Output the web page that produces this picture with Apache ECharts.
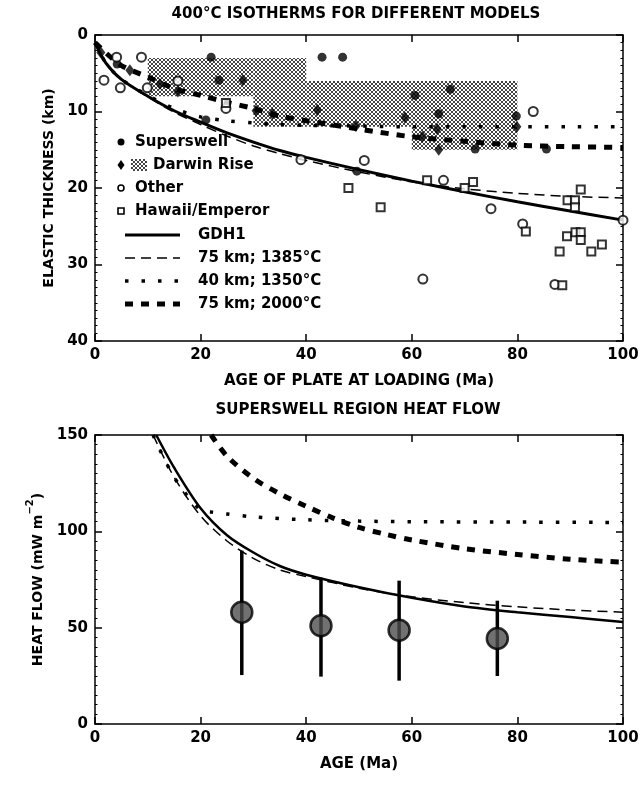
<!DOCTYPE html>
<html>
<head>
<meta charset="utf-8">
<script src="https://cdn.jsdelivr.net/npm/echarts@6/dist/echarts.min.js"></script>
<style>
html,body{margin:0;padding:0;background:#fff}
#chart{width:642px;height:788px}
</style>
</head>
<body>
<div id="chart"></div>
<script>
// ---------- Upper panel: 400 °C isotherm depth (elastic thickness, km) vs plate age (Ma) ----------
const isoAge    = [0, 2, 5, 10, 15, 20, 25, 30, 35, 40, 50, 60, 70, 80, 90, 100];
const isoGDH1   = [1.0, 3.6, 5.8, 8.0, 9.9, 11.4, 12.8, 14.0, 15.1, 16.0, 17.6, 19.1, 20.5, 21.8, 23.0, 24.2];
const iso1385   = [1.0, 3.6, 5.8, 8.1, 10.1, 11.7, 13.2, 14.5, 15.5, 16.4, 17.9, 19.2, 20.1, 20.7, 21.1, 21.3];
const iso1350   = [1.0, 3.6, 5.8, 7.9, 9.6, 10.7, 11.2, 11.5, 11.7, 11.8, 11.9, 12.0, 12.0, 12.0, 12.0, 12.0];
const iso2000   = [1.0, 2.3, 4.0, 5.5, 7.0, 7.9, 8.8, 9.6, 10.6, 11.2, 12.3, 13.3, 13.9, 14.4, 14.6, 14.7];

// Darwin Rise range: [age from, age to, top km, bottom km]
const darwinBoxes = [
  [10, 30, 3, 8],
  [30, 40, 3, 12],
  [40, 60, 6, 12],
  [60, 80, 6, 15]
];

const superswellPts = [[4.2,3.8],[22,2.9],[23.5,5.9],[43,2.9],[46.9,2.9],[21,11.1],[49.6,17.8],
  [60.6,7.9],[67.3,7.1],[65.1,10.3],[79.8,10.6],[72,14.9],[85.5,14.9]];
const darwinPts = [[1.1,2.3],[6.6,4.6],[12.3,6.4],[15.7,7.4],[28,5.9],[30.5,9.9],[33.6,10.3],
  [42.1,9.8],[49.4,11.9],[58.7,10.8],[62,13.3],[64.8,12.3],[65.1,15.0],[79.9,12.0]];
const otherPts = [[1.7,5.9],[4.1,2.9],[8.8,2.9],[4.8,6.9],[9.9,6.9],[15.7,6.0],[24.8,9.6],[39,16.3],
  [51,16.4],[66,19.0],[75,22.7],[62.1,31.9],[81,24.7],[83,10.0],[87.1,32.6],[100,24.2]];
const hawaiiPts = [[24.8,8.9],[48,20.0],[54.1,22.5],[62.9,19.0],[71.6,19.2],[70,20.0],[81.6,25.7],
  [88,28.3],[88.5,32.7],[89.4,26.3],[89.5,21.6],[90.9,21.6],[90.9,22.5],[91,25.8],[92,25.8],
  [92,26.8],[92,20.2],[94,28.3],[96,27.4]];

const topXTicks = [0, 20, 40, 60, 80, 100];
const topYTicks = [0, 10, 20, 30, 40];

// ---------- Lower panel: superswell heat flow (mW m^-2) vs age (Ma) ----------
const hfGDH1Age = [11.6, 15, 20, 25, 30, 35, 40, 50, 60, 70, 80, 90, 100];
const hfGDH1    = [150, 133, 112, 98, 89, 82, 77.5, 71, 65.5, 61, 58, 55.5, 53];
const hf1385Age = [11, 15, 20, 25, 30, 35, 40, 50, 60, 70, 80, 90, 100];
const hf1385    = [150, 128, 108, 95, 86, 80, 76.5, 70.5, 66, 63, 60.8, 59.2, 58];
const hf1350Age = [11, 15, 20, 22, 25, 30, 40, 50, 60, 80, 100];
const hf1350    = [150, 128, 111, 110, 109, 107.5, 106, 105.3, 105, 104.8, 104.6];
const hf2000Age = [22, 25, 30, 35, 40, 45, 50, 55, 60, 70, 80, 90, 100];
const hf2000    = [150, 139, 127.5, 119.5, 113, 107, 102, 98.5, 95.5, 91, 88, 85.5, 84];

const obsAge  = [27.8, 42.8, 57.6, 76.2];
const obsMean = [58, 51, 48.7, 44.4];
const obsLow  = [25.4, 24.6, 22.5, 24.9];
const obsHigh = [90, 76, 74.4, 64];

const hfXTicks = [0, 20, 40, 60, 80, 100];
const hfYTicks = [0, 50, 100, 150];

// ---------- helpers ----------
const pairs = (xs, ys) => xs.map((x, i) => [x, ys[i]]);
const FONT = 'DejaVu Sans, Liberation Sans, sans-serif';

function makeHatch() {
  const c = document.createElement('canvas');
  c.width = 4; c.height = 4;
  const g = c.getContext('2d');
  g.fillStyle = '#444';
  for (let i = 0; i < 4; i++) { g.fillRect(i, i, 1, 1); g.fillRect(3 - i, i, 1, 1); }
  return c;
}
const hatch = { image: makeHatch(), repeat: 'repeat' };

const lineStyles = {
  gdh1: { color: '#000', width: 3, type: 'solid' },
  k1385: { color: '#000', width: 1.5, type: [10, 6] },
  k1350: { color: '#000', width: 3.5, type: [3.5, 13] },
  k2000: { color: '#000', width: 5, type: [8, 8] }
};

function valueAxis(grid, pos, ticks, opts) {
  const step = ticks[1] - ticks[0];
  const main = pos === 'bottom' || pos === 'left';
  return Object.assign({
    type: 'value', gridIndex: grid, position: pos,
    min: ticks[0], max: ticks[ticks.length - 1], interval: step,
    axisLine: { show: true, onZero: false, lineStyle: { color: '#000', width: 1.5 } },
    axisTick: { show: true, inside: true, length: 7, lineStyle: { color: '#000', width: 1.5 } },
    minorTick: { show: pos === 'left' || pos === 'right', splitNumber: 10, length: 2.5, lineStyle: { color: '#000', width: 1 } },
    splitLine: { show: false },
    axisLabel: { show: main, color: '#000', fontFamily: FONT, fontSize: 15, fontWeight: 'bold', margin: 7 },
    nameTextStyle: { color: '#000', fontFamily: FONT, fontSize: 15, fontWeight: 'bold' }
  }, opts || {});
}

const lineSeries = (name, xs, ys, style, xi, yi) => ({
  type: 'line', name, xAxisIndex: xi, yAxisIndex: yi,
  data: pairs(xs, ys), showSymbol: false, smooth: 0.3,
  lineStyle: style, z: 3, silent: true
});

const scatterSeries = (name, data, symbol, size, filled) => ({
  type: 'scatter', name, xAxisIndex: 0, yAxisIndex: 0, data, symbol, symbolSize: size,
  itemStyle: filled ? { color: '#000' } : { color: '#fff', borderColor: '#000', borderWidth: 2 },
  z: 5, silent: true
});

// ---------- legend for the upper panel ----------
const LX = 121;
const legendText = (x, y, text) => ({
  type: 'text', x, y,
  style: { text, fontFamily: FONT, fontSize: 15, fontWeight: 'bold', fill: '#000', verticalAlign: 'middle' }
});
const legendGraphics = [
  { type: 'circle', shape: { cx: LX, cy: 142, r: 3.5 }, style: { fill: '#000' } },
  legendText(135, 142, 'Superswell'),
  { type: 'polygon', shape: { points: [[LX, 160], [LX + 3.5, 165], [LX, 170], [LX - 3.5, 165]] }, style: { fill: '#000' } },
  { type: 'rect', shape: { x: 131, y: 159, width: 16, height: 12 }, style: { fill: hatch } },
  legendText(153, 165, 'Darwin Rise'),
  { type: 'circle', shape: { cx: LX, cy: 188, r: 3 }, style: { fill: '#fff', stroke: '#000', lineWidth: 1.6 } },
  legendText(135, 188, 'Other'),
  { type: 'rect', shape: { x: LX - 3, y: 208, width: 6, height: 6 }, style: { fill: '#fff', stroke: '#000', lineWidth: 1.6 } },
  legendText(135, 211, 'Hawaii/Emperor')
];
const legendLines = [
  ['GDH1', lineStyles.gdh1, 235],
  ['75 km; 1385°C', lineStyles.k1385, 258],
  ['40 km; 1350°C', lineStyles.k1350, 281],
  ['75 km; 2000°C', lineStyles.k2000, 304]
];
legendLines.forEach(([label, st, y]) => {
  legendGraphics.push({
    type: 'line', shape: { x1: 125, y1: y, x2: 180, y2: y },
    style: { stroke: st.color, lineWidth: st.width, lineDash: Array.isArray(st.type) ? st.type : null }
  });
  legendGraphics.push(legendText(198, y, label));
});

const titleGraphics = [
  { type: 'text', x: 356, y: 14, style: { text: '400°C ISOTHERMS FOR DIFFERENT MODELS', fontFamily: FONT, fontSize: 15, fontWeight: 'bold', fill: '#000', align: 'center', verticalAlign: 'middle' } },
  { type: 'text', x: 358, y: 410, style: { text: 'SUPERSWELL REGION HEAT FLOW', fontFamily: FONT, fontSize: 15, fontWeight: 'bold', fill: '#000', align: 'center', verticalAlign: 'middle' } }
];

const chart = echarts.init(document.getElementById('chart'), null, { renderer: 'canvas' });

chart.setOption({
  backgroundColor: '#fff',
  animation: false,
  grid: [
    { left: 95, right: 19, top: 35, height: 306, show: false },
    { left: 95, right: 19, top: 435, height: 289, show: false }
  ],
  xAxis: [
    valueAxis(0, 'bottom', topXTicks, { name: 'AGE OF PLATE AT LOADING (Ma)', nameLocation: 'middle', nameGap: 33 }),
    valueAxis(0, 'top', topXTicks),
    valueAxis(1, 'bottom', hfXTicks, { name: 'AGE (Ma)', nameLocation: 'middle', nameGap: 33 }),
    valueAxis(1, 'top', hfXTicks)
  ],
  yAxis: [
    valueAxis(0, 'left', topYTicks, {
      inverse: true, name: 'ELASTIC THICKNESS (km)', nameLocation: 'middle', nameGap: 30,
      nameTextStyle: { color: '#000', fontFamily: FONT, fontSize: 14, fontWeight: 'bold' }
    }),
    valueAxis(0, 'right', topYTicks, { inverse: true }),
    valueAxis(1, 'left', hfYTicks, {
      name: '{n|HEAT FLOW (mW m}{s|−2}{n|)}', nameLocation: 'middle', nameGap: 36,
      nameTextStyle: {
        color: '#000', fontFamily: FONT, fontSize: 14, fontWeight: 'bold',
        rich: {
          n: { fontFamily: FONT, fontSize: 14, fontWeight: 'bold', color: '#000', lineHeight: 20, verticalAlign: 'bottom' },
          s: { fontFamily: FONT, fontSize: 10, fontWeight: 'bold', color: '#000', lineHeight: 10, verticalAlign: 'top' }
        }
      }
    }),
    valueAxis(1, 'right', hfYTicks)
  ],
  series: [
    {
      type: 'custom', name: 'Darwin Rise range', xAxisIndex: 0, yAxisIndex: 0,
      data: darwinBoxes, encode: { x: [0, 1], y: [2, 3] }, z: 1, silent: true,
      renderItem: (params, api) => {
        const a = api.coord([api.value(0), api.value(2)]);
        const b = api.coord([api.value(1), api.value(3)]);
        return { type: 'rect', shape: { x: a[0], y: a[1], width: b[0] - a[0], height: b[1] - a[1] }, style: { fill: hatch } };
      }
    },
    lineSeries('GDH1', isoAge, isoGDH1, lineStyles.gdh1, 0, 0),
    lineSeries('75 km; 1385°C', isoAge, iso1385, lineStyles.k1385, 0, 0),
    lineSeries('40 km; 1350°C', isoAge, iso1350, lineStyles.k1350, 0, 0),
    lineSeries('75 km; 2000°C', isoAge, iso2000, lineStyles.k2000, 0, 0),
    scatterSeries('Superswell', superswellPts, 'circle', 9, true),
    scatterSeries('Darwin Rise', darwinPts, 'diamond', [9, 12], true),
    scatterSeries('Other', otherPts, 'circle', 9, false),
    scatterSeries('Hawaii/Emperor', hawaiiPts, 'rect', 8, false),

    lineSeries('GDH1 heat flow', hfGDH1Age, hfGDH1, Object.assign({}, lineStyles.gdh1, { width: 2.5 }), 2, 2),
    lineSeries('75 km; 1385°C heat flow', hf1385Age, hf1385, lineStyles.k1385, 2, 2),
    lineSeries('40 km; 1350°C heat flow', hf1350Age, hf1350, lineStyles.k1350, 2, 2),
    lineSeries('75 km; 2000°C heat flow', hf2000Age, hf2000, lineStyles.k2000, 2, 2),
    {
      type: 'custom', name: 'Observed range', xAxisIndex: 2, yAxisIndex: 2, z: 6, silent: true,
      data: obsAge.map((a, i) => [a, obsLow[i], obsHigh[i]]), encode: { x: 0, y: [1, 2] },
      renderItem: (params, api) => {
        const lo = api.coord([api.value(0), api.value(1)]);
        const hi = api.coord([api.value(0), api.value(2)]);
        return { type: 'line', shape: { x1: lo[0], y1: lo[1], x2: hi[0], y2: hi[1] }, style: { stroke: '#000', lineWidth: 3.5 } };
      }
    },
    {
      type: 'scatter', name: 'Observed heat flow', xAxisIndex: 2, yAxisIndex: 2, z: 7, silent: true,
      data: pairs(obsAge, obsMean), symbol: 'circle', symbolSize: 21,
      itemStyle: { color: '#4d4d4d', borderColor: '#000', borderWidth: 2.5 }
    }
  ],
  graphic: titleGraphics.concat(legendGraphics)
});
</script>
</body>
</html>
